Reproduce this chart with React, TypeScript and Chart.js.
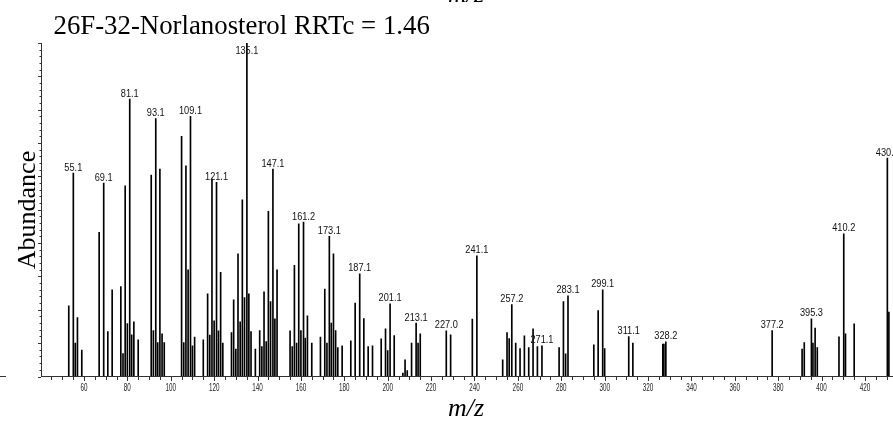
import React, { useEffect, useRef } from "react";
import { Chart, registerables } from "chart.js";

Chart.register(...registerables);

// m/z values of the peaks
const mzValues: number[] = [
  53, 55.1, 56, 57, 59, 67, 69.1, 71, 73, 77, 78, 79, 80, 81.1, 82, 83, 85,
  91, 92, 93.1, 94, 95, 96, 97, 105, 106, 107, 108, 109.1, 110, 111, 115, 117,
  118, 119, 120, 121.1, 122, 123, 124, 128, 129, 130, 131, 132, 133, 134, 135.1,
  136, 137, 139, 141, 142, 143, 144, 145, 146, 147.1, 148, 149, 155, 156, 157,
  158, 159, 160, 161.2, 162, 163, 165, 169, 171, 172, 173.1, 174, 175, 176, 177,
  179, 183, 185, 187.1, 189, 191, 193, 197, 199, 200, 201.1, 203, 207, 208, 209,
  211, 213.1, 214, 215, 227.0, 229, 239, 241.1, 253, 255, 256, 257.2, 259, 261,
  263, 265, 267, 269, 271.1, 279, 281, 282, 283.1, 295, 297, 299.1, 300, 311.1,
  313, 326.8, 327.3, 328.2, 377.2, 391, 392, 395.3, 396, 397, 398, 408, 410.2,
  411, 415, 430.3, 431,
];

// relative abundances (%)
const abundanceValues: number[] = [
  21.2, 61, 10, 17.7, 7.9, 43.2, 58, 13.5, 26, 27, 6.9, 57.2, 15.9, 83.2, 12.5, 16.4, 11,
  60.4, 13.8, 77.3, 10.2, 62.2, 12.8, 10.2, 72, 10.2, 63.2, 32, 78, 9.2, 11.8, 11, 24.8,
  12.4, 59.3, 16.7, 58.2, 13.7, 31.2, 10, 13.2, 23, 8.2, 36.8, 16.4, 53, 23.7, 100,
  24.8, 13.5, 8.2, 13.8, 9, 25.4, 10.5, 49.5, 22.5, 62.2, 17.3, 32, 13.7, 9, 33.3,
  10, 45.8, 13.8, 46.3, 11.5, 18.2, 10, 11.8, 26.2, 10, 42, 16, 36.8, 13.8, 8.7,
  9.2, 10.7, 22, 30.8, 17.4, 9, 9.2, 11.3, 14.3, 7.8, 21.8, 12.3, 1, 5, 1.8,
  10, 16, 10, 12.8, 13.7, 12.5, 17.2, 36.2, 5, 13.2, 11.4, 21.6, 10, 8.4,
  12.2, 8.7, 14.3, 9, 9.2, 8.7, 22.5, 6.8, 24.2, 9.5, 19.8, 26, 8.4, 12,
  10, 9.7, 9.7, 10.4, 13.8, 8.2, 10.2, 17.3, 10, 14.5, 8.7, 11.9, 42.8,
  12.8, 15.8, 65.5, 19.3,
];

// peaks that carry a label
const labeledPeaks: number[] = [
  55.1, 69.1, 81.1, 93.1, 109.1, 121.1, 135.1, 147.1, 161.2, 173.1, 187.1, 201.1,
  213.1, 227.0, 241.1, 257.2, 271.1, 283.1, 299.1, 311.1, 328.2, 377.2, 395.3, 410.2, 430.3,
];

const xTickValues: number[] = [60, 80, 100, 120, 140, 160, 180, 200, 220, 240, 260, 280, 300, 320, 340, 360, 380, 400, 420];

const titleText = "26F-32-Norlanosterol RRTc = 1.46";
const xTitle = "m/z";
const yTitle = "Abundance";

const X_MIN = 40.2;
const X_MAX = 432.9;

const decorPlugin = {
  id: "decor",
  afterDatasetsDraw(chart: any) {
    const ctx = chart.ctx as CanvasRenderingContext2D;
    const xs = chart.scales.x;
    const ys = chart.scales.y;
    const area = chart.chartArea;
    ctx.save();
    ctx.fillStyle = "#111";
    ctx.font = "10px 'Liberation Sans', Arial, sans-serif";
    ctx.textAlign = "center";
    ctx.textBaseline = "alphabetic";
    labeledPeaks.forEach((mz) => {
      const i = mzValues.indexOf(mz);
      if (i < 0) return;
      const px = xs.getPixelForValue(mz);
      const py = ys.getPixelForValue(abundanceValues[i]);
      const by = Math.max(py - 2.5, area.top + 11);
      ctx.save();
      ctx.translate(px, by);
      ctx.scale(0.92, 1);
      ctx.fillText(mz.toFixed(1), 0, 0);
      ctx.restore();
    });
    ctx.restore();
  },
  afterDraw(chart: any) {
    const ctx = chart.ctx as CanvasRenderingContext2D;
    const xs = chart.scales.x;
    const ys = chart.scales.y;
    const area = chart.chartArea;
    ctx.save();
    ctx.strokeStyle = "#333";
    ctx.lineWidth = 1;
    ctx.beginPath();
    ctx.moveTo(area.left, 376.5);
    ctx.lineTo(chart.width, 376.5);
    ctx.moveTo(41.5, area.top);
    ctx.lineTo(41.5, 377);
    ctx.moveTo(0, 376.5);
    ctx.lineTo(6, 376.5);
    ctx.stroke();
    ctx.beginPath();
    for (let v = 45; v <= 430; v += 5) {
      const px = Math.round(xs.getPixelForValue(v)) + 0.5;
      const len = v % 20 === 0 ? 4 : 3;
      ctx.moveTo(px, 377);
      ctx.lineTo(px, 377 + len);
    }
    for (let v = 0; v <= 100; v += 2) {
      const py = Math.round(ys.getPixelForValue(v)) + 0.5;
      const len = v % 10 === 0 ? 3 : 1.5;
      ctx.moveTo(41, py);
      ctx.lineTo(41 - len, py);
    }
    ctx.stroke();
    ctx.fillStyle = "#222";
    ctx.font = "10.5px 'Liberation Sans', Arial, sans-serif";
    ctx.textAlign = "center";
    ctx.textBaseline = "alphabetic";
    xTickValues.forEach((v) => {
      const px = xs.getPixelForValue(v);
      ctx.save();
      ctx.translate(px, 391);
      ctx.scale(0.6, 1);
      ctx.fillText(String(v), 0, 0);
      ctx.restore();
    });
    ctx.fillStyle = "#000";
    ctx.font = "26.8px 'Liberation Serif', 'Times New Roman', serif";
    ctx.textAlign = "left";
    ctx.fillText(titleText, 53.5, 33.5);
    ctx.font = "italic 26px 'Liberation Serif', 'Times New Roman', serif";
    ctx.textAlign = "center";
    ctx.fillText(xTitle, 466, 416);
    ctx.fillText(xTitle, 466, 1.5);
    ctx.font = "26px 'Liberation Serif', 'Times New Roman', serif";
    ctx.save();
    ctx.translate(35, 210);
    ctx.rotate(-Math.PI / 2);
    ctx.textAlign = "center";
    ctx.fillText(yTitle, 0, 0);
    ctx.restore();
    ctx.restore();
  },
};

export default function App() {
  const ref = useRef<HTMLCanvasElement | null>(null);
  useEffect(() => {
    document.body.style.margin = "0";
    const canvas = ref.current;
    if (!canvas) return;
    const chart = new Chart(canvas, {
      type: "bar",
      data: {
        datasets: [
          {
            data: mzValues.map((m, i) => ({ x: m, y: abundanceValues[i] })),
            backgroundColor: "#000",
            borderWidth: 0,
            barThickness: 1,
          } as any,
        ],
      },
      options: {
        animation: false,
        responsive: false,
        devicePixelRatio: 1,
        layout: { padding: { left: 41, right: 0, top: 43, bottom: 48.5 } },
        plugins: { legend: { display: false }, tooltip: { enabled: false } },
        scales: {
          x: { type: "linear", min: X_MIN, max: X_MAX, display: false, offset: false },
          y: { min: 0, max: 100, display: false },
        },
      },
      plugins: [decorPlugin],
    });
    return () => chart.destroy();
  }, []);
  return (
    <div style={{ position: "absolute", left: 0, top: 0, width: 893, height: 425, background: "#fff" }}>
      <canvas ref={ref} width={893} height={425} />
    </div>
  );
}
